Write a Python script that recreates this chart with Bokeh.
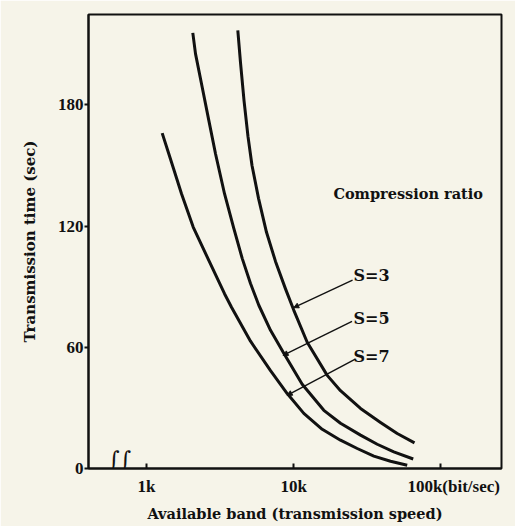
from bokeh.plotting import figure
from bokeh.models import Range1d, Label, Arrow, NormalHead, FixedTicker
from bokeh.embed import file_html
from bokeh.resources import INLINE

# ---- data (bit/sec, seconds) ----
s7_speed = [1278, 1417, 1533, 1729, 2076, 2650, 3388, 3780, 5088, 6958, 9033,
            11710, 15620, 20790, 27010, 35020, 45460, 59030]
s7_time = [166.0, 155.8, 148.0, 136.0, 119.5, 103.0, 86.5, 79.8, 63.0, 48.4, 37.1,
           27.3, 19.4, 14.0, 9.9, 6.1, 3.6, 1.6]

s5_speed = [2063, 2153, 2390, 2650, 2943, 3388, 3918, 4468, 5088, 5794, 6958, 8564,
            11420, 16020, 20790, 28440, 36930, 47860, 64850]
s5_time = [215.6, 205.2, 188.7, 172.3, 155.8, 136.0, 118.8, 104.0, 91.6, 80.8, 68.4, 57.0,
           41.7, 28.8, 22.4, 16.5, 12.0, 8.2, 4.7]

s3_speed = [4171, 4351, 4597, 4892, 5209, 5768, 6535, 7522, 8796, 10020, 12350,
            16890, 20790, 28440, 38880, 50480, 66180]
s3_time = [216.8, 200.9, 182.1, 164.3, 150.0, 133.7, 116.9, 102.5, 88.9, 78.3, 62.5,
           46.1, 38.5, 29.7, 22.8, 17.3, 12.7]

x_ticks = [1000, 10000, 100000]
x_tick_labels = ["1k", "10k", "100k(bit/sec)"]
y_ticks = [0, 60, 120, 180]

series_labels = ["S=3", "S=5", "S=7"]

BG = "#f6f4e9"
INK = "#111111"
LABEL_FONT = "DejaVu Serif"
TICK_FONT = "Liberation Serif"

p = figure(width=515, height=526, x_axis_type="log",
           x_range=Range1d(403.6, 258000), y_range=Range1d(0, 224.7),
           output_backend="svg", toolbar_location=None,
           min_border_left=88, min_border_right=14, min_border_top=14, min_border_bottom=58)

p.background_fill_color = BG
p.border_fill_color = BG
p.outline_line_color = INK
p.outline_line_width = 2
p.grid.visible = False

for s_x, s_y in [(s7_speed, s7_time), (s5_speed, s5_time), (s3_speed, s3_time)]:
    p.line(s_x, s_y, line_color=INK, line_width=3, line_join="round")

# axes
xa = p.xaxis[0]
xa.ticker = FixedTicker(ticks=x_ticks, minor_ticks=[])
# the unit label of the last tick runs to the right of its tick, as in the original
xa.major_label_overrides = {x_ticks[0]: x_tick_labels[0], x_ticks[1]: x_tick_labels[1],
                            x_ticks[2]: "\u2003\u2002" + x_tick_labels[2]}
xa.major_tick_in = 5
xa.major_tick_out = 0
xa.major_tick_line_width = 2
xa.axis_line_width = 2
xa.axis_line_color = INK
xa.major_tick_line_color = INK
xa.major_label_standoff = 8
xa.major_label_text_font = TICK_FONT
xa.major_label_text_font_style = "bold"
xa.major_label_text_font_size = "17px"
xa.major_label_text_color = INK
xa.axis_label = "Available band (transmission speed)"
xa.axis_label_text_font = LABEL_FONT
xa.axis_label_text_font_style = "bold"
xa.axis_label_text_font_size = "14.5px"
xa.axis_label_text_color = INK
xa.axis_label_standoff = 6

ya = p.yaxis[0]
ya.ticker = FixedTicker(ticks=y_ticks, minor_ticks=[])
ya.major_tick_in = 0
ya.major_tick_out = 4
ya.major_tick_line_width = 2
ya.axis_line_width = 2
ya.axis_line_color = INK
ya.major_tick_line_color = INK
ya.major_label_standoff = 1
ya.major_label_text_font = TICK_FONT
ya.major_label_text_font_style = "bold"
ya.major_label_text_font_size = "17px"
ya.major_label_text_color = INK
ya.axis_label = "Transmission time (sec)"
ya.axis_label_text_font = LABEL_FONT
ya.axis_label_text_font_style = "bold"
ya.axis_label_text_font_size = "15px"
ya.axis_label_text_color = INK
ya.axis_label_standoff = 16

# axis break mark (screen units from the frame's lower-left)
p.add_layout(Label(x=31, y=9, x_units="screen", y_units="screen",
                   text="\u222b\u222b", text_align="center", text_baseline="middle",
                   text_font=LABEL_FONT, text_font_size="22px", text_color=INK))

# legend title
p.add_layout(Label(x=18600, y=136, text="Compression ratio", text_align="left",
                   text_baseline="middle", text_font=LABEL_FONT, text_font_style="bold",
                   text_font_size="14.5px", text_color=INK))

# series labels with leader arrows
label_pos = [(25500, 95.6), (25500, 74.3), (25500, 55.2)]
leader_start = [(25100, 93.2), (24900, 72.8), (26200, 54.1)]
leader_end = [(10000, 79.6), (8460, 56.0), (9020, 36.2)]
for txt, (lx, ly), (sx, sy), (ex, ey) in zip(series_labels, label_pos, leader_start, leader_end):
    p.add_layout(Label(x=lx, y=ly, text=txt, text_align="left", text_baseline="middle",
                       text_font=LABEL_FONT, text_font_style="bold", text_font_size="16px",
                       text_color=INK))
    p.add_layout(Arrow(x_start=sx, y_start=sy, x_end=ex, y_end=ey, line_color=INK, line_width=1.4,
                       end=NormalHead(size=5, fill_color=INK, line_color=INK, line_width=1)))

open("out.html", "w").write(file_html(p, INLINE))
